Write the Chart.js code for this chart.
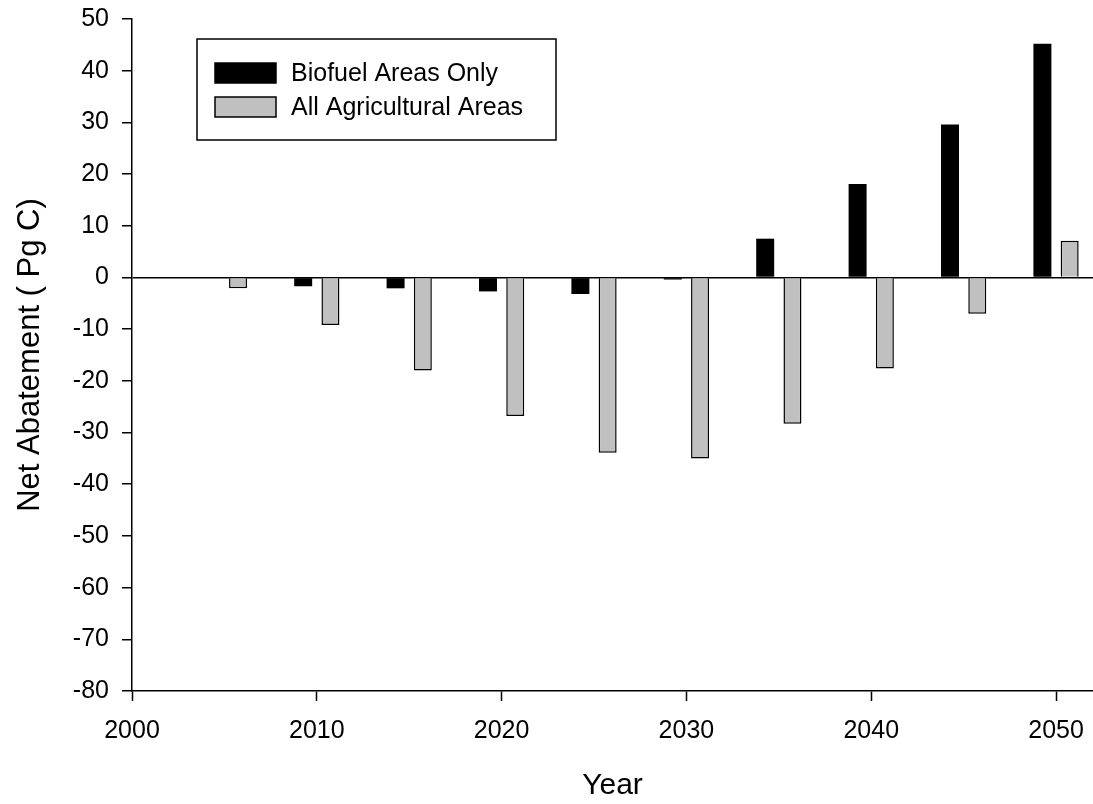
<!DOCTYPE html>
<html>
<head>
<meta charset="utf-8">
<script src="https://cdn.jsdelivr.net/npm/chart.js@4"></script>
<style>
  body { margin: 0; background: #fff; }
</style>
</head>
<body>
<canvas id="canvas-1" width="1093" height="804"></canvas>
<script>
let years = [2005, 2010, 2015, 2020, 2025, 2030, 2035, 2040, 2045, 2050]
let biofuel = [null, -1.7, -2.1, -2.7, -3.2, -0.4, 7.5, 18.1, 29.6, 45.2]
let allAgri = [-2.1, -9.2, -18.0, -26.8, -33.9, -35.0, -28.3, -17.6, -7.0, 7.1]
let yTicks = [-80, -70, -60, -50, -40, -30, -20, -10, 0, 10, 20, 30, 40, 50]

const font = 'Liberation Sans, Arial, sans-serif';

// legend box inside plot, drawn by hand
const boxLegend = {
  id: 'boxLegend',
  afterDraw(chart) {
    const ctx = chart.ctx;
    ctx.save();
    ctx.lineWidth = 1.5;
    ctx.strokeStyle = 'black';
    ctx.strokeRect(197, 39, 359, 101);
    ctx.font = '25px ' + font;
    ctx.textBaseline = 'middle';
    chart.data.datasets.forEach((ds, i) => {
      const y = 63 + i * 34;
      ctx.fillStyle = ds.backgroundColor;
      ctx.fillRect(215, y, 61, 20);
      ctx.lineWidth = 1.5;
      ctx.strokeRect(215, y, 61, 20);
      ctx.fillStyle = 'black';
      ctx.fillText(ds.label, 291, y + 11);
    });
    ctx.restore();
  }
};

const barChart = new Chart(document.getElementById('canvas-1'), {
  type: 'bar',
  data: {
    datasets: [{
      label: 'Biofuel Areas Only',
      backgroundColor: '#000000',
      borderWidth: 0,
      data: years.map((yr, i) => ({x: yr, y: biofuel[i]}))
    }, {
      label: 'All Agricultural Areas',
      backgroundColor: '#c0c0c0',
      borderColor: '#000000',
      borderWidth: 1.5,
      data: years.map((yr, i) => ({x: yr, y: allAgri[i]}))
    }]
  },
  options: {
    responsive: false,
    animation: false,
    categoryPercentage: 0.59,
    barPercentage: 0.66,
    layout: {
      padding: { top: 19, right: 0, left: 0, bottom: 0 }
    },
    plugins: {
      legend: { display: false },
      tooltip: { enabled: false }
    },
    scales: {
      x: {
        type: 'linear',
        min: 2000,
        max: 2052,
        offset: false,
        afterFit(scale) {
          scale.height = 113;
          scale.paddingLeft = 0;
          scale.paddingRight = 0;
        },
        border: { display: true, color: 'black', width: 1.5 },
        grid: { offset: false, drawOnChartArea: false, tickLength: 10, tickColor: 'black', tickWidth: 1.5 },
        ticks: {
          stepSize: 10,
          includeBounds: false,
          color: 'black',
          padding: 15,
          font: { size: 25, family: font },
          callback: v => String(v)
        },
        title: {
          display: true,
          text: 'Year',
          color: 'black',
          font: { size: 30, family: font },
          padding: { top: 12, bottom: 0 }
        }
      },
      y: {
        min: -80,
        max: 50,
        afterFit(scale) {
          scale.width = 132;
          scale.paddingTop = 0;
          scale.paddingBottom = 0;
        },
        afterBuildTicks(scale) { scale.ticks = yTicks.map(v => ({value: v})); },
        border: { display: true, color: 'black', width: 1.5 },
        grid: {
          color: c => (c.tick && c.tick.value === 0) ? 'black' : 'rgba(0,0,0,0)',
          lineWidth: 1.5,
          tickLength: 10,
          tickColor: 'black',
          tickWidth: 1.5
        },
        ticks: {
          color: 'black',
          padding: 13,
          font: { size: 25, family: font }
        },
        title: {
          display: true,
          text: 'Net Abatement ( Pg C)',
          color: 'black',
          font: { size: 31, family: font },
          padding: { top: 12, bottom: 4 }
        }
      }
    }
  },
  plugins: [boxLegend]
});
</script>
</body>
</html>
